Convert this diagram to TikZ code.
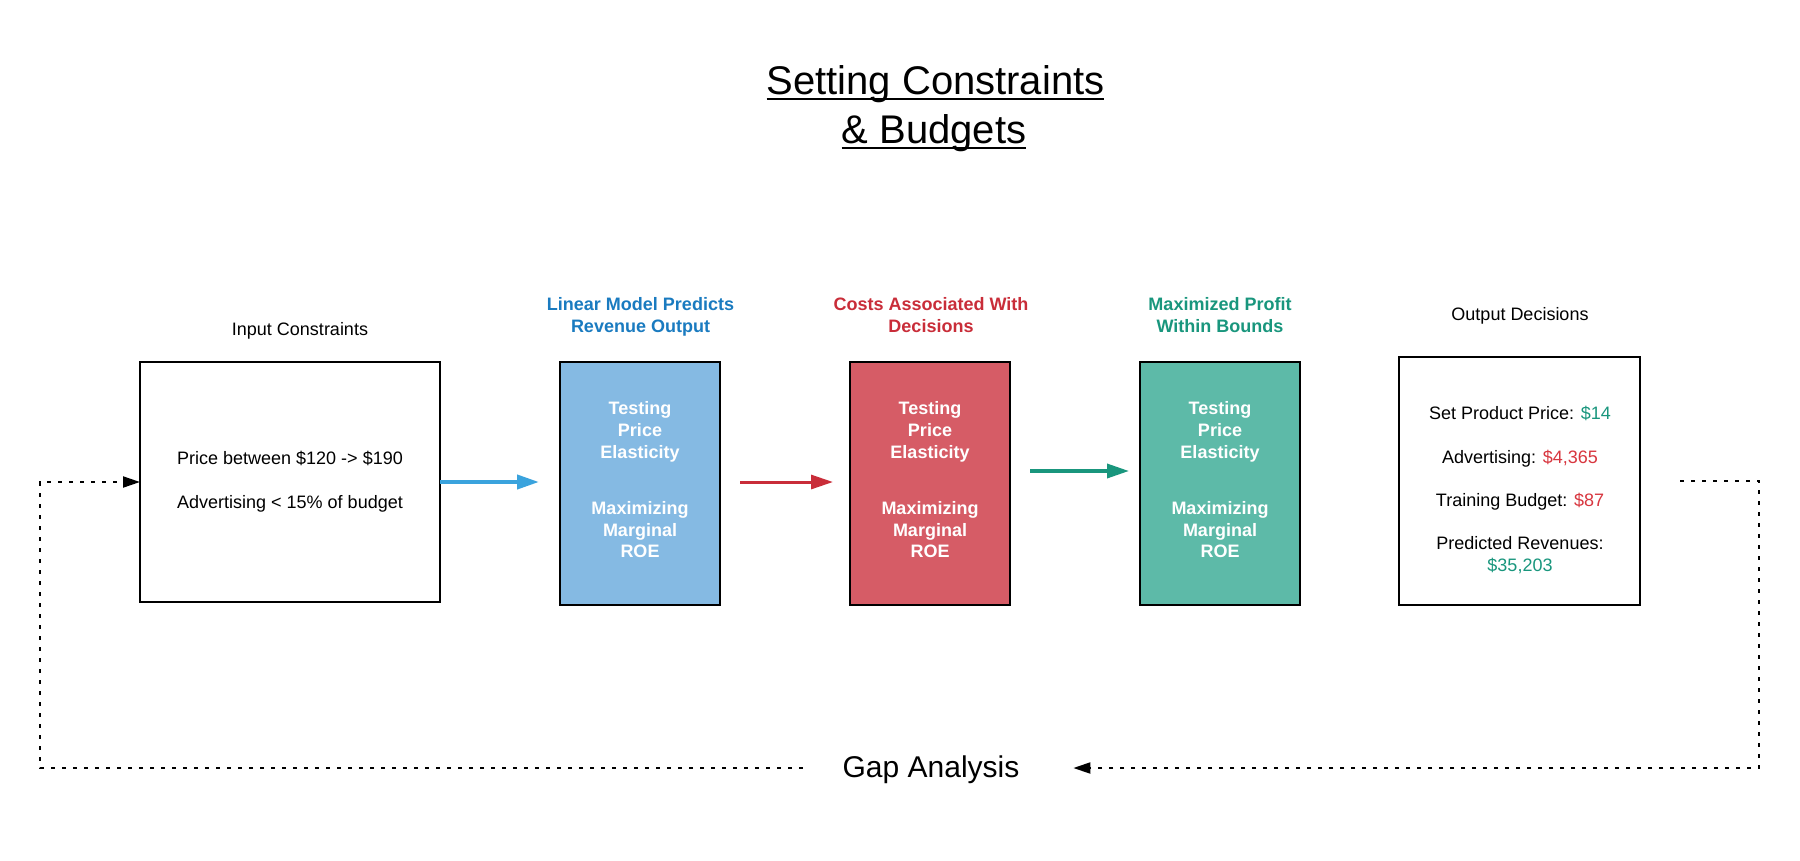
\documentclass[tikz,border=0pt]{standalone}
\usepackage{fontspec}
\setmainfont{Liberation Sans}
\usetikzlibrary{arrows.meta,calc}
\definecolor{bluefill}{HTML}{85BAE3}
\definecolor{bluetext}{HTML}{1A7BC0}
\definecolor{bluearrow}{HTML}{3AA3DD}
\definecolor{redfill}{HTML}{D65C66}
\definecolor{redtext}{HTML}{C92D39}
\definecolor{greenfill}{HTML}{5DBAA8}
\definecolor{greentext}{HTML}{19967D}
\definecolor{valred}{HTML}{D8363F}
\newcommand\stagetext[2]{%
  \foreach \k/\w/\yy in {1/Testing/408,2/Price/430,3/Elasticity/452,4/Maximizing/508,5/Marginal/530,6/ROE/551}
    \node[wtxt] (#1t\k) at (#2,\yy) {\w};}
\begin{document}
\begin{tikzpicture}[x=1pt,y=-1pt,
  txt/.style={inner sep=0pt,outer sep=0pt,text height=12.9pt,text depth=0pt,font=\fontsize{18}{21.6}\selectfont},
  btxt/.style={txt,font=\fontsize{18}{21.6}\selectfont\bfseries},
  wtxt/.style={btxt,text=white},
  titletxt/.style={inner sep=0pt,outer sep=0pt,text height=28.6pt,text depth=0pt,font=\fontsize{40}{48}\selectfont},
  gaptxt/.style={inner sep=0pt,outer sep=0pt,text height=21.5pt,text depth=0pt,font=\fontsize{30}{36}\selectfont},
  box/.style={draw=black,line width=2.5pt,inner sep=0pt,outer sep=0pt},
  stagebox/.style={box,minimum width=160pt,minimum height=243pt},
  dotline/.style={line width=2pt,dash pattern=on 4pt off 7pt},
  colarrow/.style={-{Triangle[length=22pt,width=14pt]}},
  blackarrow/.style={-{Triangle[length=17pt,width=11pt]}},
]
\fill[white] (0,0) rectangle (1800,860);
\useasboundingbox (0,0) rectangle (1800,860);

% title
\node[titletxt] (title1) at (935.5,80.2) {Setting Constraints};
\node[titletxt] (title2) at (934,129.2) {\& Budgets};
\draw[line width=2.8pt] ([yshift=-18.8pt]title1.west) -- ([yshift=-18.8pt]title1.east);
\draw[line width=2.8pt] ([yshift=-18.8pt]title2.west) -- ([yshift=-18.8pt]title2.east);

% input
\node[txt] (inlabel) at (300,329.5) {Input Constraints};
\node[box,minimum width=300pt,minimum height=240pt] (inbox) at (290,482) {};
\node[txt] (in1) at (290,458) {Price between \$120 -> \$190};
\node[txt] (in2) at (290,502) {Advertising < 15\% of budget};

% stage 1
\node[btxt,text=bluetext] (bl1) at (640.5,304) {Linear Model Predicts};
\node[btxt,text=bluetext] (bl2) at (640.5,326) {Revenue Output};
\node[stagebox,fill=bluefill] (blue) at (640,483.5) {};
\stagetext{blue}{640}

% stage 2
\node[btxt,text=redtext] (rl1) at (931,304) {Costs Associated With};
\node[btxt,text=redtext] (rl2) at (931,326) {Decisions};
\node[stagebox,fill=redfill] (red) at (930,483.5) {};
\stagetext{red}{930}

% stage 3
\node[btxt,text=greentext] (gl1) at (1220,304) {Maximized Profit};
\node[btxt,text=greentext] (gl2) at (1220,326) {Within Bounds};
\node[stagebox,fill=greenfill] (green) at (1220,483.5) {};
\stagetext{green}{1220}

% output
\node[txt] (outlabel) at (1520,314.5) {Output Decisions};
\node[box,minimum width=241pt,minimum height=248pt] (outbox) at (1519.5,481) {};
\node[txt] (o1) at (1520,413.5) {Set Product Price: \textcolor{greentext}{\$14}};
\node[txt] (o2) at (1520,457) {Advertising: \textcolor{valred}{\$4,365}};
\node[txt] (o3) at (1520,500.5) {Training Budget: \textcolor{valred}{\$87}};
\node[txt] (o4) at (1520,543) {Predicted Revenues:};
\node[txt,text=greentext] (o5) at (1520,565) {\$35,203};

% gap analysis
\node[gaptxt] (gap) at (931,767) {Gap Analysis};

% solid arrows
\draw[colarrow,bluearrow,line width=4pt] (inbox.east) -- ($(inbox.east -| blue.west)+(-21,0)$);
\draw[colarrow,redtext,line width=3pt] ($(blue.east)+(20,-1.5)$) -- ($(red.west)+(-17,-1.5)$);
\draw[colarrow,greentext,line width=3.5pt] ($(red.east)+(20,-12.5)$) -- ($(green.west)+(-11,-12.5)$);

% feedback loop
\draw[dotline,blackarrow] ($(gap.west)+(-40,1)$) -| ($(inbox.west)+(-100,0)$) -- (inbox.west);
\draw[dotline,blackarrow] ($(outbox.east)+(40,0)$) -- ++(79,0) |- ($(gap.east)+(54,1)$);
\end{tikzpicture}
\end{document}
